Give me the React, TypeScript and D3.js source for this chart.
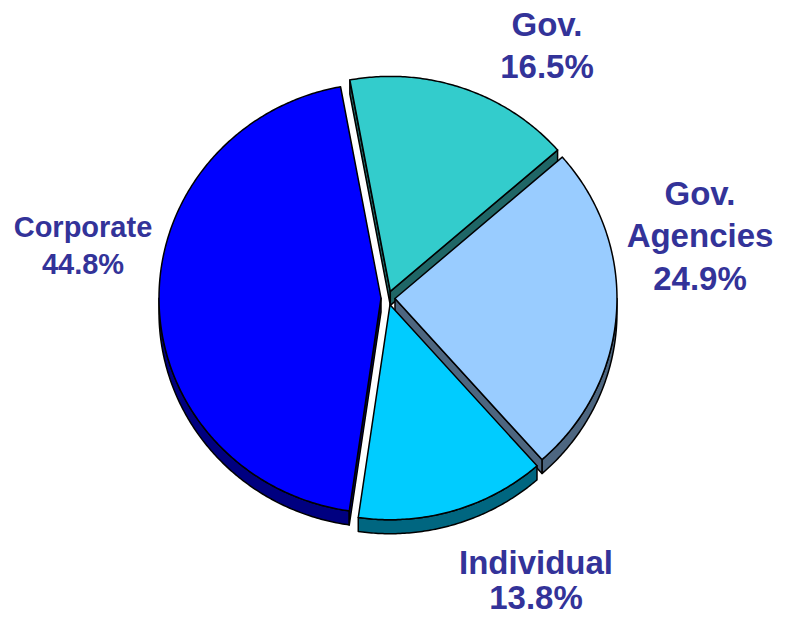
import React from 'react';
import * as d3 from 'd3';

// slice data, clockwise from the top
const categories = ['Gov.', 'Gov.|Agencies', 'Individual', 'Corporate'];
const shares = [16.5, 24.9, 13.8, 44.8];

const topColors = ['#33CCCC', '#99CCFF', '#00CCFF', '#0000FF'];
const sideColors = ['#1F6666', '#4D6680', '#006680', '#000080'];

// label layout: centre x, baselines, font size
const labelLayout = [
  { x: 547, ys: [36, 78], size: 33 },
  { x: 700, ys: [205, 247, 290], size: 33 },
  { x: 536, ys: [574, 609], size: 33 },
  { x: 83, ys: [237, 274], size: 29 },
];

const W = 790;
const H = 617;
const cx = 388;
const cy = 298;
const rx = 222;
const ry = 215;
const depth = 14;
const explode = 7;
const start = (-10.5 * Math.PI) / 180;

const line = d3.line<[number, number]>();

function sample(a0: number, a1: number) {
  const n = Math.max(2, Math.ceil((a1 - a0) / 0.01));
  return d3.range(n + 1).map((i) => a0 + ((a1 - a0) * i) / n);
}

export default function App() {
  const pie = d3.pie<number>().sort(null).startAngle(start).endAngle(start + 2 * Math.PI);
  const arcs = pie(shares);

  const slices = arcs.map((d, i) => {
    const mid = (d.startAngle + d.endAngle) / 2;
    const ox = explode * Math.sin(mid);
    const oy = -explode * Math.cos(mid);
    const pt = (a: number, dy = 0): [number, number] => [
      cx + ox + rx * Math.sin(a),
      cy + oy - ry * Math.cos(a) + dy,
    ];
    const apex: [number, number] = [cx + ox, cy + oy];
    const apexLow: [number, number] = [cx + ox, cy + oy + depth];

    const top = line([apex, ...sample(d.startAngle, d.endAngle).map((a) => pt(a))]) + 'Z';

    const sides: string[] = [];
    // outer rim, only the lower half faces us
    const lo = Math.max(d.startAngle, Math.PI / 2);
    const hi = Math.min(d.endAngle, (3 * Math.PI) / 2);
    if (hi > lo) {
      const s = sample(lo, hi);
      const pts = [...s.map((a) => pt(a)), ...s.slice().reverse().map((a) => pt(a, depth))];
      sides.push(line(pts) + 'Z');
    }
    // radial faces
    if (Math.sin(d.startAngle) < 0) {
      sides.push(line([apex, pt(d.startAngle), pt(d.startAngle, depth), apexLow]) + 'Z');
    }
    if (Math.sin(d.endAngle) > 0) {
      sides.push(line([apex, pt(d.endAngle), pt(d.endAngle, depth), apexLow]) + 'Z');
    }
    return { i, top, sides };
  });

  return (
    <svg width={W} height={H} style={{ position: 'absolute', left: 0, top: 0, background: '#fff' }}>
      <g>
        {slices.map((s) =>
          s.sides.map((p, k) => (
            <path key={`side-${s.i}-${k}`} d={p} fill={sideColors[s.i]} stroke="#000" strokeWidth={1.5} strokeLinejoin="round" />
          ))
        )}
      </g>
      <g>
        {slices.map((s) => (
          <path key={`top-${s.i}`} d={s.top} fill={topColors[s.i]} stroke="#000" strokeWidth={1.5} strokeLinejoin="round" />
        ))}
      </g>
      <g fontFamily="'Liberation Sans', Arial, sans-serif" fontWeight="bold" fill="#333399" textAnchor="middle">
        {arcs.map((d, i) => {
          const lines = [...categories[i].split('|'), d.data.toFixed(1) + '%'];
          const lay = labelLayout[i];
          return (
            <text key={`lab-${i}`} fontSize={lay.size}>
              {lines.map((t, k) => (
                <tspan key={k} x={lay.x} y={lay.ys[k]}>
                  {t}
                </tspan>
              ))}
            </text>
          );
        })}
      </g>
    </svg>
  );
}
